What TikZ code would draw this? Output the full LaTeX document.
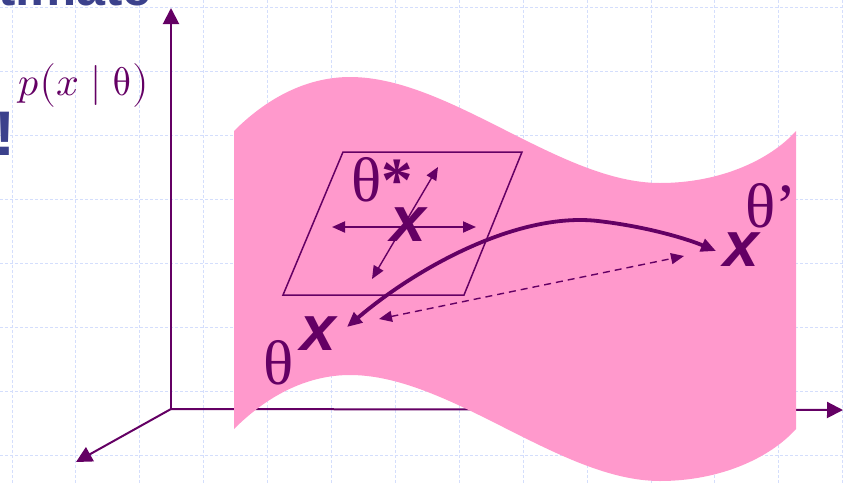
\documentclass[tikz,border=0pt]{standalone}
\usepackage{fontspec}
\usepackage{unicode-math}
\setmathfont{Latin Modern Math}
\setmainfont{Liberation Serif}
\newfontfamily\sansfam{Liberation Sans}
\usetikzlibrary{arrows.meta,calc}
\definecolor{purp}{RGB}{100,0,100}
\definecolor{pinkfill}{RGB}{255,153,204}
\definecolor{titleblue}{RGB}{59,65,140}
\definecolor{gridc}{RGB}{212,222,252}
\begin{document}
\begin{tikzpicture}[x=1pt,y=-1pt,
  gridline/.style={draw=gridc, line width=0.9pt, dash pattern=on 3pt off 2pt},
  axisline/.style={draw=purp, line width=2pt, -{Triangle[length=16pt,width=16pt]}},
  thetalabel/.style={text=purp, inner sep=0pt, anchor=base west, font=\fontsize{63}{63}\selectfont},
  xmark/.style={text=purp, inner sep=0pt, anchor=center, font=\sansfam\bfseries\itshape\fontsize{64}{64}\selectfont},
  thickarrow/.style={draw=purp, line width=3.8pt, {Triangle[length=15pt,width=13pt]}-{Triangle[length=15pt,width=13pt]}},
  planearrow/.style={draw=purp, line width=2pt, {Triangle[length=13pt,width=11pt]}-{Triangle[length=13pt,width=11pt]}},
  diagarrow/.style={draw=purp, line width=1.4pt, {Triangle[length=13pt,width=11pt]}-{Triangle[length=13pt,width=11pt]}},
  dasharrow/.style={draw=purp, line width=1.4pt, dash pattern=on 7pt off 5pt, {Triangle[length=13pt,width=11pt]}-{Triangle[length=13pt,width=11pt]}},
  titletext/.style={text=titleblue, inner sep=0pt, font=\sansfam\bfseries\fontsize{52}{52}\selectfont},
  bangtext/.style={text=titleblue, inner sep=0pt, font=\sansfam\bfseries\fontsize{63}{63}\selectfont}
]
\useasboundingbox (0,0) rectangle (844,483);
\clip (0,0) rectangle (844,483);
% grid
\foreach \i in {0,...,13} \draw[gridline] ({12+63.9*\i},0) -- ({12+63.9*\i},483);
\foreach \j in {0,...,7} \draw[gridline] (0,{7+64.1*\j}) -- (844,{7+64.1*\j});
% cropped slide text
\node[titletext, anchor=base east] (title) at (152,5) {timate};
\node[bangtext, anchor=base west] (bang) at (-6,155) {!};
% axes
\coordinate (O) at (171,409);
\coordinate (yT) at (171,8);
\coordinate (xT) at (843,410);
\coordinate (zT) at (76,462);
\draw[axisline] (O) -- (yT);
\draw[axisline] (O) -- (xT);
\draw[axisline] (O) -- (zT);
\node[text=purp, inner sep=0pt, font=\fontsize{40}{40}\selectfont] (plabel) at (84,85) {$p\bigl(x\mid\symup{\theta}\bigr)$};
% surface
\fill[pinkfill] (234,131) .. controls (270,95) and (310,77) .. (350,77)
  .. controls (450,77) and (560,183) .. (660,183)
  .. controls (720,183) and (770,160) .. (796,131)
  -- (796,429)
  .. controls (770,458) and (720,481) .. (660,481)
  .. controls (560,481) and (450,375) .. (350,375)
  .. controls (310,375) and (270,393) .. (234,429) -- cycle;
% tangent plane
\coordinate (p1) at (343,152);
\coordinate (p2) at (522,152);
\coordinate (p3) at (464,295);
\coordinate (p4) at (283,295);
\draw[purp, line width=1.5pt, line join=miter] (p1) -- (p2) -- (p3) -- (p4) -- cycle;
% labels
\node[xmark] (xs) at (408,225) {x};
\node[xmark] (xa) at (318,334) {x};
\node[xmark] (xb) at (741,250) {x};
\node[thetalabel] (ts) at (351,201) {θ\textbf{*}};
\node[thetalabel] (ta) at (263,384) {θ};
\node[thetalabel] (tb) at (745,227) {θ’};
% arrows in plane
\coordinate (hl) at (332,227);
\coordinate (hr) at (476,227);
\coordinate (du) at (438,167);
\coordinate (dd) at (372,279);
\draw[planearrow] (hl) -- (hr);
\draw[diagarrow] (dd) -- (du);
% path arrows
\coordinate (cA) at (347,327);
\coordinate (cB) at (716,251);
\draw[thickarrow] (cA) .. controls (420,265) and (520,212) .. (598,221)
  .. controls (650,227) and (690,240) .. (cB);
\coordinate (dA) at (379,319);
\coordinate (dB) at (684,256);
\draw[dasharrow] (dA) -- (dB);
\end{tikzpicture}
\end{document}
